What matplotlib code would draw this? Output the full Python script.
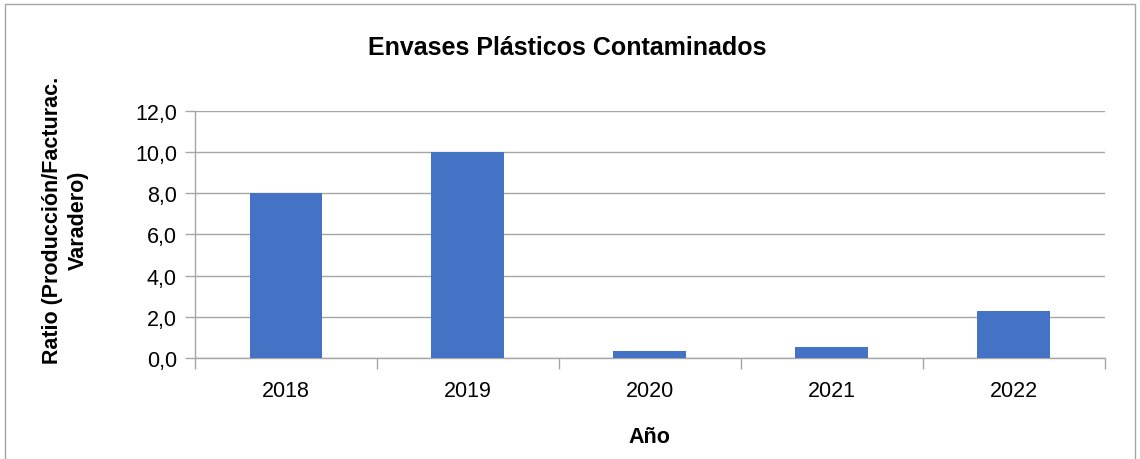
import numpy as np
import matplotlib
matplotlib.use('Agg')
import matplotlib.pyplot as plt
from matplotlib.patches import Rectangle
from matplotlib.ticker import FuncFormatter, FixedLocator

plt.rcParams['font.family'] = ['Liberation Sans', 'DejaVu Sans']

years = ['2018', '2019', '2020', '2021', '2022']
ratio = [8.0, 10.0, 0.32, 0.55, 2.3]

fig = plt.figure(figsize=(11.4, 4.6), dpi=100)
ax = fig.add_axes([0.171, 0.2196, 0.798, 0.5369])

x = np.arange(len(years))
ax.bar(x, ratio, width=0.4, color='#4472C4', zorder=3)

ax.set_xlim(-0.5, len(years) - 0.5)
ax.set_ylim(0, 12)
ax.set_yticks(np.arange(0, 12.1, 2))
ax.yaxis.set_major_formatter(FuncFormatter(lambda v, p: f'{v:.1f}'.replace('.', ',')))
ax.set_xticks(x)
ax.set_xticklabels(years)
ax.xaxis.set_minor_locator(FixedLocator(np.arange(-0.5, len(years), 1.0)))
ax.tick_params(axis='x', which='major', length=0, labelsize=15.5, pad=16)
ax.tick_params(axis='x', which='minor', length=8, color='#A6A6A6', width=1)
ax.tick_params(axis='y', length=7, color='#A6A6A6', width=1, labelsize=15.5, pad=6)

ax.grid(axis='y', color='#A6A6A6', linewidth=1, zorder=0)
for s in ['top', 'right']:
    ax.spines[s].set_visible(False)
for s in ['left', 'bottom']:
    ax.spines[s].set_color('#A6A6A6')
    ax.spines[s].set_linewidth(1)

fig.text(0.4975, 1 - 48 / 460, 'Envases Plásticos Contaminados', fontsize=18,
         fontweight='bold', ha='center', va='center')
ax.set_xlabel('Año', fontsize=15.5, fontweight='bold')
ax.xaxis.set_label_coords(0.5, -0.275)
ax.set_ylabel('Ratio (Producción/Facturac.\nVaradero)', fontsize=15.5, fontweight='bold',
              multialignment='center', linespacing=1.3)
ax.yaxis.set_label_coords(-0.117, 0.563)

fig.patches.append(Rectangle((5 / 1140, -0.01), 1130 / 1140, 1 - 5 / 460 + 0.01,
                             transform=fig.transFigure, fill=False,
                             edgecolor='#A6A6A6', linewidth=1))

fig.savefig('out.png', dpi=100)
